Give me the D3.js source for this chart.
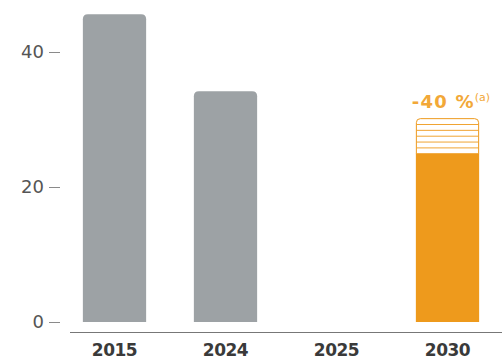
<!DOCTYPE html>
<html>
<head>
<meta charset="utf-8">
<script src="https://cdn.jsdelivr.net/npm/d3@7"></script>
<style>
  html, body { margin: 0; padding: 0; background: #fff; }
  svg { display: block; }
</style>
</head>
<body>
<svg id="chart" width="502" height="363"></svg>
<script>
// Emissions by year, with the 2030 target range shown as a hatched cap
const years = ["2015", "2024", "2025", "2030"];
const values = [45.6, 34.2, null, 25.0];
const targetTop = [null, null, null, 30.2];
const barKinds = ["past", "past", "none", "target"];
const yTicks = [0, 20, 40];
const targetLabel = "-40 %";
const targetNote = "(a)";

const grey = "#9da2a5";
const orange = "#ee9a1c";
const labelOrange = "#f2a838";

const svg = d3.select("#chart");

const x = d3.scaleBand()
  .domain(years)
  .range([59, 503])
  .paddingInner(0.43)
  .paddingOuter(0.215);

const y = d3.scaleLinear()
  .domain([0, 40])
  .range([322, 52]);

// rectangle with rounded top corners only
function topRounded(x0, y0, w, h, r) {
  r = Math.min(r, h, w / 2);
  return `M${x0},${y0 + h}V${y0 + r}Q${x0},${y0} ${x0 + r},${y0}` +
         `H${x0 + w - r}Q${x0 + w},${y0} ${x0 + w},${y0 + r}V${y0 + h}Z`;
}

const rows = years.map((yr, i) => ({ year: yr, value: values[i], top: targetTop[i], kind: barKinds[i] }));

// y axis: ticks with short dashes, no domain line
const yAxis = svg.append("g")
  .attr("transform", "translate(60,0)")
  .call(d3.axisLeft(y).tickValues(yTicks).tickSize(11).tickPadding(5));
yAxis.select(".domain").remove();
yAxis.selectAll(".tick line").attr("stroke", "#8a8a8a").attr("stroke-width", 1);
yAxis.selectAll(".tick text")
  .attr("fill", "#555")
  .style("font-family", "DejaVu Sans, sans-serif")
  .style("font-size", "18px");

// bars
const solid = rows.filter(d => d.value != null);
svg.append("g").selectAll("path")
  .data(solid)
  .join("path")
  .attr("d", d => topRounded(x(d.year), y(d.value), x.bandwidth(), y(0) - y(d.value), d.kind === "past" ? 5 : 0))
  .attr("fill", d => d.kind === "past" ? grey : orange);

// hatched target range above the 2030 bar
const capped = rows.filter(d => d.top != null);
const cap = svg.append("g").selectAll("g")
  .data(capped)
  .join("g");

cap.append("path")
  .attr("d", d => topRounded(x(d.year) + 0.5, y(d.top) + 0.5, x.bandwidth() - 1, y(d.value) - y(d.top), 4))
  .attr("fill", "#fff")
  .attr("stroke", orange)
  .attr("stroke-width", 1);

cap.each(function (d) {
  const g = d3.select(this);
  const y0 = y(d.top), y1 = y(d.value);
  const n = 5;
  const step = (y1 - y0) / (n + 1);
  g.selectAll("line.hatch")
    .data(d3.range(1, n + 1))
    .join("line")
    .attr("class", "hatch")
    .attr("x1", x(d.year) + 1)
    .attr("x2", x(d.year) + x.bandwidth() - 1)
    .attr("y1", k => y0 + k * step + 0.5)
    .attr("y2", k => y0 + k * step + 0.5)
    .attr("stroke", orange)
    .attr("stroke-width", 0.9);
});

// percentage label over the target range
const lbl = cap.append("text")
  .attr("x", d => x(d.year) - 4)
  .attr("y", d => y(d.top) - 10)
  .attr("fill", labelOrange)
  .style("font-family", "DejaVu Sans, sans-serif")
  .style("font-weight", "bold")
  .style("font-size", "18px")
  .style("letter-spacing", "1.2px");
lbl.append("tspan").text(targetLabel);
lbl.append("tspan")
  .attr("dy", -7)
  .style("font-size", "11px")
  .style("font-weight", "normal")
  .style("letter-spacing", "0px")
  .text(targetNote);

// x axis: baseline rule and bold year labels
svg.append("line")
  .attr("x1", 70).attr("x2", 502)
  .attr("y1", 332.5).attr("y2", 332.5)
  .attr("stroke", "#777").attr("stroke-width", 1);

const xAxis = svg.append("g")
  .attr("transform", "translate(0,332)")
  .call(d3.axisBottom(x).tickSize(0).tickPadding(12));
xAxis.select(".domain").remove();
xAxis.selectAll(".tick text")
  .attr("fill", "#3a3a3a")
  .style("font-family", "DejaVu Sans, sans-serif")
  .style("font-weight", "bold")
  .style("font-size", "17px")
  .style("letter-spacing", "-0.5px");
</script>
</body>
</html>
